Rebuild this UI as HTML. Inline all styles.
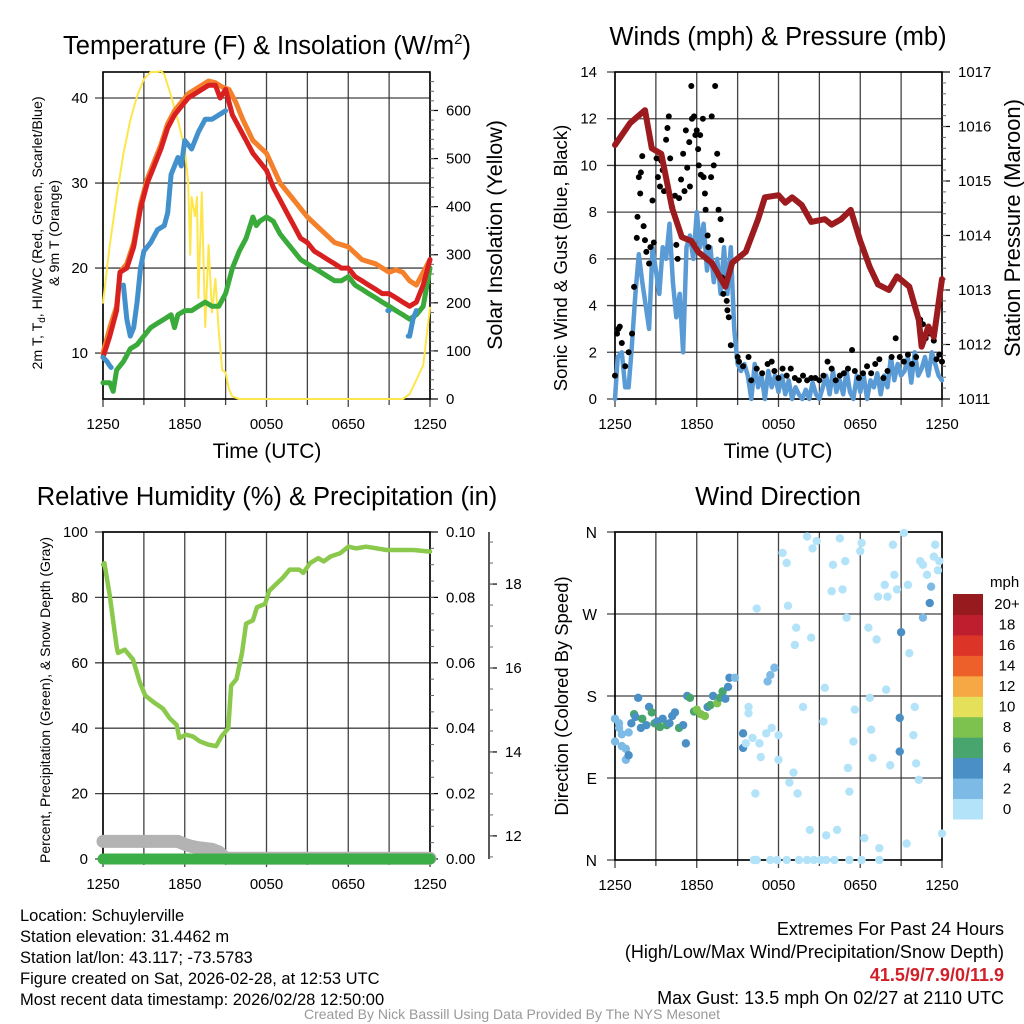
<!DOCTYPE html>
<html><head><meta charset="utf-8">
<style>
html,body{margin:0;padding:0;background:#fff;}
svg{display:block;font-family:"Liberation Sans",Arial,sans-serif;}
</style></head>
<body>
<svg id="chart" width="1024" height="1024" viewBox="0 0 1024 1024" xmlns="http://www.w3.org/2000/svg">
<rect width="1024" height="1024" fill="#fff"/>
<g id="g1"></g>
<g id="g2"></g>
<g id="g3"></g>
<g id="g4"></g>

<text x="267" y="54" font-size="25.5" text-anchor="middle">Temperature (F) &amp; Insolation (W/m<tspan font-size="15" dy="-10">2</tspan><tspan dy="10">)</tspan></text>
<text x="778" y="45" font-size="25.5" text-anchor="middle">Winds (mph) &amp; Pressure (mb)</text>
<text x="267" y="505" font-size="25.5" text-anchor="middle">Relative Humidity (%) &amp; Precipitation (in)</text>
<text x="778" y="505" font-size="25.5" text-anchor="middle">Wind Direction</text>

<text x="267" y="458" font-size="21" text-anchor="middle">Time (UTC)</text>
<text x="778" y="458" font-size="21" text-anchor="middle">Time (UTC)</text>

<text transform="translate(42,233) rotate(-90)" font-size="14.2" text-anchor="middle">2m T, T<tspan font-size="10" dy="3">d</tspan><tspan dy="-3">, HI/WC (Red, Green, Scarlet/Blue)</tspan></text>
<text transform="translate(59,233) rotate(-90)" font-size="14.2" text-anchor="middle">&amp; 9m T (Orange)</text>
<text transform="translate(502,235) rotate(-90)" font-size="21.5" text-anchor="middle">Solar Insolation (Yellow)</text>
<text transform="translate(567,258) rotate(-90)" font-size="18.6" text-anchor="middle">Sonic Wind &amp; Gust (Blue, Black)</text>
<text transform="translate(1020,228) rotate(-90)" font-size="22" text-anchor="middle">Station Pressure (Maroon)</text>
<text transform="translate(50,700) rotate(-90)" font-size="14" text-anchor="middle">Percent, Precipitation (Green), &amp; Snow Depth (Gray)</text>
<text transform="translate(568,696) rotate(-90)" font-size="18.4" text-anchor="middle">Direction (Colored By Speed)</text>

<g font-size="16.5">
<text x="20" y="921">Location: Schuylerville</text>
<text x="20" y="942">Station elevation: 31.4462 m</text>
<text x="20" y="963">Station lat/lon: 43.117; -73.5783</text>
<text x="20" y="984">Figure created on Sat, 2026-02-28, at 12:53 UTC</text>
<text x="20" y="1005">Most recent data timestamp: 2026/02/28 12:50:00</text>
</g>
<g font-size="18" text-anchor="end">
<text x="1004" y="935">Extremes For Past 24 Hours</text>
<text x="1004" y="958">(High/Low/Max Wind/Precipitation/Snow Depth)</text>
<text x="1004" y="981" fill="#d0202a" font-weight="bold">41.5/9/7.9/0/11.9</text>
<text x="1004" y="1004">Max Gust: 13.5 mph On 02/27 at 2110 UTC</text>
</g>
<text x="512" y="1019" font-size="14" fill="#999" text-anchor="middle">Created By Nick Bassill Using Data Provided By The NYS Mesonet</text>
</svg>
<script>
// ---- data ----
const xTickLabels = ["1250","1850","0050","0650","1250"];
const redT = [0,0.5,1,1.25,1.75,2.25,2.75,3.25,3.75,4.25,4.75,5.25,5.75,6.25,6.75,7.25,7.75,8.25,8.6,9,9.5,10,10.5,11,11.5,12,12.5,13,13.5,14,14.5,15,15.5,16,16.5,17,17.5,18,18.5,19,19.5,20,20.5,21,21.5,22,22.5,23,23.5,24];
const redV = [9.5,12,15,19.5,20,22.5,27,30,32,34,36.5,38,39,40,40.5,41,41.5,41.5,40,41,38,36.5,35,33.5,32.5,31.5,29.5,28,26.5,25,23.5,23,22,21.5,21,20.5,20,20,19,18.5,18,17.5,17,17,16.5,16,15.5,16,18,21];
const orgT = [0,0.5,1,1.25,1.75,2.25,2.75,3.25,3.75,4.25,4.75,5.25,5.75,6.25,6.75,7.25,7.75,8.25,8.75,9.25,9.75,10.25,11,12,13,14,15,16,17,18,19,20,21,21.5,22,22.5,23,23.5,24];
const orgV = [10,13,15.5,19.5,20.5,23,27.5,30.5,32.5,34.5,37,38.5,39.5,40.5,41,41.5,42,41.8,41.3,41,39.5,37.5,35,33.5,30,28,26,24.5,23,22.5,21,20.5,19.5,19.8,19.5,18.5,18,19.5,21];
const grnT = [0,0.5,0.75,1,1.5,2,2.5,3,3.5,4,4.5,5,5.25,5.5,6,6.5,7,7.5,8,8.5,9,9.5,10,10.5,11,11.25,11.5,12,12.5,13,13.5,14,14.5,15,15.5,16,16.5,17,17.5,18,18.5,19,19.5,20,20.5,21,21.5,22,22.5,23,23.5,24];
const grnV = [6.5,6.5,5.5,8,9,10.5,11,12,13,13.5,14,14.5,13,14.5,15,15,15.5,16,15.5,15.5,17,20,22,23.5,26,25,25.5,26,25.5,24,23,22,21,20.5,20,19.5,19,18.5,18.5,19,18,17.5,17,16.5,16,15.5,15,14.5,14,14.5,15.5,20];
const bluT = [0,0.3,0.5,0.6,1.25,1.5,1.75,2,2.25,2.5,2.75,3,3.5,4,4.5,4.75,5,5.5,5.75,6,6.5,7,7.5,8,8.5,9,9.1,20.9,21,21.1,22.4,22.5,22.75,23,23.1];
const bluV = [9.5,9,8.5,8.3,null,18,14,12,13,16,20,22,23,24.5,25,26.5,31,33,32,35,34,36,37.5,37.5,38,38.5,null,15,15,null,12,12,14,15,null];
const solT = [0,0.5,1,1.5,2,2.5,3,3.5,4,4.25,4.5,5,5.5,6,6.25,6.4,6.5,6.75,6.9,7,7.25,7.5,7.75,8,8.25,8.5,8.75,9,9.25,9.5,10,22,22.5,23,23.5,24];
const solV = [200,320,420,510,580,630,665,680,680,682,675,630,580,520,450,300,420,380,420,210,430,150,320,180,250,140,60,55,20,5,0,0,10,40,70,190];

const presT = [0,1.1,2.2,2.7,3.4,4.2,4.9,5.6,6.1,7.1,8.1,8.6,9.6,10.5,11,12,12.5,13,13.7,14.4,15.4,15.9,16.6,17.3,18,18.7,19.3,20.1,20.7,21.6,22.3,22.5,23,23.4,24];
const presV = [1015.66,1016.06,1016.3,1015.6,1015.5,1014.5,1013.97,1013.9,1013.7,1013.5,1013.06,1013.5,1013.7,1014.3,1014.7,1014.74,1014.6,1014.7,1014.56,1014.25,1014.3,1014.2,1014.3,1014.47,1013.9,1013.42,1013.1,1013.0,1013.25,1013.06,1012.45,1011.96,1012.33,1012.14,1013.2];
const windT = [0,0.2,0.5,0.75,1,1.2,1.5,1.75,2,2.25,2.5,2.75,3,3.25,3.5,3.75,4,4.25,4.5,4.75,5,5.25,5.5,5.75,6,6.25,6.5,6.75,7,7.25,7.5,7.75,8,8.25,8.5,8.75,9,9.25,9.5,9.75,10,10.25,10.5,10.75,11,11.25,11.5,11.75,12,12.25,12.5,12.75,13,13.25,13.5,13.75,14,14.25,14.5,14.75,15,15.25,15.5,15.75,16,16.25,16.5,16.75,17,17.25,17.5,17.75,18,18.25,18.5,18.75,19,19.25,19.5,19.75,20,20.25,20.5,20.75,21,21.25,21.5,21.75,22,22.25,22.5,22.75,23,23.25,23.5,23.75,24];
const windV = [0,1.8,2,0.5,0.5,2,4.5,6.2,5,4,3,6.5,5.5,4.5,6.5,6,7.5,5,3.5,4.5,2,6.5,7,6,8,6.5,7.5,5.5,6.5,5,6,4.5,6.5,4.5,6.5,3,1.5,1.2,1.5,1,0,1.5,0.5,1,0,1.2,0.5,1,0.3,1,0.2,0.8,0,0.5,0.2,0,0.4,0,0.7,0.2,0,0.5,1,0.2,1.2,0.3,0.8,0.2,1.2,0.3,0,1,0.3,1,0,0.8,0.5,1.1,0.2,1,0.5,1.8,0.8,1.5,1,1.2,1.8,0.7,2,1,1.3,1.8,1,2,1.5,1,0.8];
const gustT = [0,0.15,0.25,0.35,0.5,0.75,1,1.25,1.4,1.6,1.65,1.75,1.85,1.9,2,2.1,2.2,2.3,2.5,2.6,2.75,2.85,3.05,3.15,3.3,3.4,3.5,3.6,3.75,3.85,3.95,4.05,4.2,4.4,4.5,4.6,4.7,4.85,5,5.1,5.2,5.3,5.45,5.5,5.6,5.65,5.8,5.9,6,6.1,6.15,6.25,6.3,6.45,6.5,6.6,6.65,6.8,6.85,7.05,7.1,7.25,7.35,7.5,7.6,7.75,7.8,7.85,7.95,8.1,8.2,8.25,8.35,8.5,9,9.1,9.4,9.8,10,10.4,10.8,11.2,11.5,11.7,12,12.3,12.6,12.9,13.2,13.5,13.8,14.1,14.4,14.7,15,15.3,15.6,15.9,16.2,16.5,16.8,17.1,17.4,17.6,17.9,18.2,18.5,18.8,19.1,19.4,19.7,20,20.3,20.6,20.9,21.2,21.5,21.8,22.1,22.4,22.6,22.8,23,23.2,23.4,23.6,23.8,24];
const gustV = [1,2.8,3,3.1,2.4,1.4,2,2.8,4.8,6.9,7.8,9.5,8.8,9.7,10.4,7.4,6.8,6.3,5.8,6.5,8.5,6.7,10.3,9.5,9.1,10.2,9.8,8.9,11.1,11.6,12.1,10.3,8.2,8.7,6.6,6,8.6,9.4,10.5,8.9,11.5,9.9,11,9.1,13.4,12,12.1,11.3,11.5,10.7,10,11.3,9.6,12,9.5,8.8,8.1,7,6.5,9.5,12.1,10,13.4,10.5,8.1,7.7,6.8,5.2,4.5,5.1,4.2,3.8,3.5,2.3,1.8,1.6,1.4,1.8,0.8,1.3,1.1,1.5,1.6,1.2,0.9,1.3,1,1.3,0.9,0.8,1,0.8,0.9,0.9,0.8,1,1.6,1.3,0.8,1,1.1,1.3,2.1,1.2,0.9,1.1,1.4,1.1,1.5,1.7,0.9,1.2,1.8,2.6,1.8,1.6,1.9,1.5,1.8,3.4,3.2,2.6,2.8,2.9,2.5,1.7,1.9,1.6];

const rhT = [0,0.1,0.5,1,1.1,1.6,2.2,2.7,3.1,3.7,4.4,4.9,5.4,5.6,6.1,6.6,7.1,7.7,8.3,8.7,9.2,9.4,9.8,10.2,10.5,11,11.3,11.9,12.2,12.7,13.2,13.7,14.4,14.7,15.2,15.8,16.2,16.7,17.4,18,18.6,19.3,20.1,20.8,21.8,22.8,24];
const rhV = [90,90.5,80.5,65,63,64,61,54,50,48,46,43,41,37,38,37.5,36,35,34.5,37.5,40,53,55,63,72,73,77,78,82,84,86,88.5,88.5,87.5,90.5,92,91,92.5,93.5,95.5,95,95.5,95,94.5,94.5,94.5,94];
const snowT = [0,5.5,6,6.5,7,8,8.5,9,24];
const snowV = [11.87,11.87,11.8,11.75,11.72,11.68,11.62,11.47,11.47];
const precipT = [0,24];
const precipV = [0,0];

const dirT = [0,0,0.3,0.3,0.5,0.5,0.8,0.8,1,1,1.2,1.4,1.5,1.7,1.9,2,2.3,2.5,2.7,2.9,3.1,3.3,3.5,3.8,4,4.2,4.4,4.7,5,5.2,5.3,5.5,5.8,6,6.3,6.6,6.8,7,7.2,7.5,7.7,7.9,8.1,8.3,8.4,8.8,10.4,9.4,9.4,9.8,10.3,10.7,11.2,11.4,11.7,12,12,12.3,12.6,12.7,12.8,13.1,13.2,13.3,13.4,13.8,14.1,14.3,14.5,14.8,14.4,15.3,15.4,15.5,15.9,16,16.3,16.5,16.7,16.9,17,17.1,17.2,17.5,17.6,18,18.1,18.3,18.6,18.7,18.8,18.9,19.2,19.3,19.4,19.8,19.9,20,20.2,20.4,20.5,20.7,20.9,20.9,21,21.2,21.4,21.5,21.6,21.9,22,22.1,22.3,22.4,22.6,22.6,22.9,23.1,23.2,23.4,23.5,23.7,24,23.8,10.1,10.6,11.1,11.5,9.6,9.8,10.2,10.4,11.4,11.9,12.6,13.5,14.1,14.6,15.1,15.5,16.1,17.2,18.1,19.4];
const dirV = [155,130,150,145,138,125,110,122,140,115,150,160,157,178,145,155,148,168,162,150,152,146,155,148,150,158,162,145,148,128,180,178,163,165,160,158,168,170,180,172,178,185,177,190,200,200,276,139,123,161,73,113,196,203,211,137,110,337,326,279,85,96,236,255,73,168,355,33,342,350,244,152,189,27,295,324,33,353,297,328,266,101,75,130,165,339,348,24,255,178,143,112,242,289,13,302,187,289,104,346,313,297,156,119,250,359,18,302,227,137,168,106,88,328,266,324,313,282,300,333,346,318,29,328,134,128,139,145,128,168,0,0,0,0,0,0,0,0,0,0,0,0,0,0];
const dirS = [1,1,2,2,1,2,1,1,2,4,4,6,4,4,4,6,4,4,6,6,4,6,4,6,4,4,4,6,4,4,4,6,6,8,8,8,4,6,4,8,6,6,4,4,4,2,0,4,4,0,0,0,1,1,1,0,0,0,0,0,0,0,0,0,0,0,0,0,0,0,0,0,0,0,0,0,0,0,0,0,0,0,0,0,0,0,0,0,0,0,0,0,0,0,0,0,0,0,0,0,0,0,4,4,4,0,0,0,0,0,0,0,0,0,2,0,0,4,2,0,0,0,0,0,0,0,0,0,0,0,0,0,0,0,0,0,0,0,0,0,0,0,0,0];
const speedBins = ["0","2","4","6","8","10","12","14","16","18","20+"];
const speedColors = ["#b3e3f8","#7dbbe6","#4a8fc6","#48a56d","#7dc24e","#e4e05a","#f5a843","#ee6029","#dc3528","#be1e2d","#961a1e"];

// ---- helpers ----
const NS = "http://www.w3.org/2000/svg";
function mk(parent, tag, attrs, text){
  const e = document.createElementNS(NS, tag);
  for (const k in attrs) e.setAttribute(k, attrs[k]);
  if (text !== undefined) e.textContent = text;
  parent.appendChild(e);
  return e;
}
function scale(d0,d1,r0,r1){ return v => r0 + (v-d0)/(d1-d0)*(r1-r0); }
function pathD(ts, vs, sx, sy){
  let d = "", pen = false;
  for (let i=0;i<ts.length;i++){
    if (vs[i]===null){ pen=false; continue; }
    d += (pen?"L":"M") + sx(ts[i]).toFixed(1) + "," + sy(vs[i]).toFixed(1);
    pen = true;
  }
  return d;
}
function frame(g, L, R, T, B, hVals, sy, name){
  const sx = scale(0,24,L,R);
  for (let h=0; h<=24; h+=3){
    const l = mk(g,"line",{x1:sx(h),x2:sx(h),y1:T,y2:B+ (h%6===0?8:6),stroke:"#222","stroke-width":1.3,"stroke-opacity":0.85});
    
    
  }
  hVals.forEach(v=>{
    const l = mk(g,"line",{x1:L-8,x2:R,y1:sy(v),y2:sy(v),stroke:"#222","stroke-width":1.3,"stroke-opacity":0.85});
    
    
  });
  const b = mk(g,"rect",{x:L,y:T,width:R-L,height:B-T,fill:"none",stroke:"#000","stroke-width":1.6});
  
  
  xTickLabels.forEach((s,i)=>{
    const t = mk(g,"text",{x:sx(i*6),y:B+30,"font-size":15,"text-anchor":"middle"},s);
    
    
  });
  return sx;
}
function leftLabels(g, vals, sy, x, name, fmt){
  vals.forEach(v=>{
    const t = mk(g,"text",{x:x,y:sy(v)+5,"font-size":15,"text-anchor":"end"}, fmt?fmt(v):v);
    
    
  });
}
function rightAxis(g, R, vals, sy, minor, name, fmt){
  vals.forEach(v=>{
    const l = mk(g,"line",{x1:R,x2:R+8,y1:sy(v),y2:sy(v),stroke:"#000","stroke-width":1.2});
    
    
    const t = mk(g,"text",{x:R+16,y:sy(v)+5,"font-size":15}, fmt?fmt(v):v);
    
    
  });
  minor.forEach(v=>{
    const l = mk(g,"line",{x1:R,x2:R+4,y1:sy(v),y2:sy(v),stroke:"#666","stroke-width":1});
    
    
  });
}
function line(g, ts, vs, sx, sy, color, w, name){
  const p = mk(g,"path",{d:pathD(ts,vs,sx,sy),fill:"none",stroke:color,"stroke-width":w,"stroke-linejoin":"round","stroke-linecap":"round"});
  
  
  return p;
}
function range(a,b,s){ const r=[]; for(let v=a; v<=b+1e-9; v+=s) r.push(+v.toFixed(4)); return r; }

// ---- panel 1 ----
(function(){
  const g = document.getElementById("g1");
  const L=103,R=430,T=72,B=399;
  const sy = scale(4.6,43.06,B,T);
  const si = scale(0,680,B,T);
  const sx = frame(g,L,R,T,B,[10,20,30,40],sy,"temp");
  leftLabels(g,[10,20,30,40],sy,88,"temp-y-tick-label");
  rightAxis(g,R,[0,100,200,300,400,500,600],si,range(20,660,20),"insolation-axis");
  line(g,solT,solV,sx,si,"#fde64b",2,"solar-insolation-line");
  line(g,orgT,orgV,sx,sy,"#f4802b",5,"temp-9m-line");
  line(g,grnT,grnV,sx,sy,"#3aaa3a",5,"dewpoint-line");
  line(g,redT,redV,sx,sy,"#d92020",5,"temp-2m-line");
  line(g,bluT,bluV,sx,sy,"#4290cc",5,"heat-index-windchill-line");
})();

// ---- panel 2 ----
(function(){
  const g = document.getElementById("g2");
  const L=615,R=942,T=72,B=399;
  const sy = scale(0,14,B,T);
  const sp = scale(1011,1017,B,T);
  const sx = frame(g,L,R,T,B,[0,2,4,6,8,10,12,14],sy,"wind");
  leftLabels(g,[0,2,4,6,8,10,12,14],sy,597,"wind-y-tick-label");
  rightAxis(g,R,[1011,1012,1013,1014,1015,1016,1017],sp,range(1011.2,1016.8,0.2),"pressure-axis");
  line(g,windT,windV,sx,sy,"#5b9bd5",4.5,"sonic-wind-line");
  gustT.forEach((t,i)=>{
    const c = mk(g,"circle",{cx:sx(t),cy:sy(gustV[i]),r:3,fill:"#000"});
    
    
  });
  line(g,presT,presV,sx,sp,"#9b1b1e",6,"station-pressure-line");
})();

// ---- panel 3 ----
(function(){
  const g = document.getElementById("g3");
  const L=103,R=430,T=532,B=859;
  const sy = scale(0,100,B,T);
  const spr = scale(0,0.1,B,T);
  const ss = scale(11.45,19.24,B,T);
  const sx = frame(g,L,R,T,B,[0,20,40,60,80,100],sy,"humidity");
  leftLabels(g,[0,20,40,60,80,100],sy,88,"humidity-y-tick-label");
  rightAxis(g,R,[0,0.02,0.04,0.06,0.08,0.1],spr,range(0.005,0.095,0.005),"precip-axis",v=>v.toFixed(2));
  const ax = mk(g,"line",{x1:489,x2:489,y1:T,y2:B,stroke:"#000","stroke-width":1.3});
  
  
  [12,14,16,18].forEach(v=>{
    const l = mk(g,"line",{x1:489,x2:497,y1:ss(v),y2:ss(v),stroke:"#000","stroke-width":1.2});
    
    
    const t = mk(g,"text",{x:505,y:ss(v)+5,"font-size":15},v);
    
    
  });
  range(11.5,19,0.5).forEach(v=>{
    const l = mk(g,"line",{x1:489,x2:493,y1:ss(v),y2:ss(v),stroke:"#666","stroke-width":1});
    
    
  });
  line(g,snowT,snowV,sx,ss,"#b3b3b3",13,"snow-depth-line");
  line(g,precipT,precipV,sx,spr,"#3cae47",11,"precipitation-line");
  line(g,rhT,rhV,sx,sy,"#8ac94b",4.5,"relative-humidity-line");
})();

// ---- panel 4 ----
(function(){
  const g = document.getElementById("g4");
  const L=615,R=942,T=532,B=860;
  const sy = scale(0,360,B,T);
  const sx = frame(g,L,R,T,B,[0,90,180,270,360],sy,"direction");
  ["N","E","S","W","N"].forEach((s,i)=>{
    const t = mk(g,"text",{x:597,y:sy(i*90)+6,"font-size":15.5,"text-anchor":"end"},s);
    
    
  });
  dirT.forEach((t,i)=>{
    const c = mk(g,"circle",{cx:sx(t),cy:sy(dirV[i]),r:4.2,fill:speedColors[Math.min(10,Math.round(dirS[i]/2))]});
    
    
  });
  const cbTop=594, cbBot=819, n=speedBins.length, h=(cbBot-cbTop)/n;
  const lt = mk(g,"text",{x:990,y:587,"font-size":15},"mph");
  
  
  speedBins.forEach((s,i)=>{
    const y = cbBot - (i+1)*h;
    const r = mk(g,"rect",{x:953,y:y,width:30,height:h+0.5,fill:speedColors[i]});
    
    
    const t = mk(g,"text",{x:1007,y:y+h/2+5,"font-size":15,"text-anchor":"middle"},s);
    
    
  });
})();
</script>
</body></html>
